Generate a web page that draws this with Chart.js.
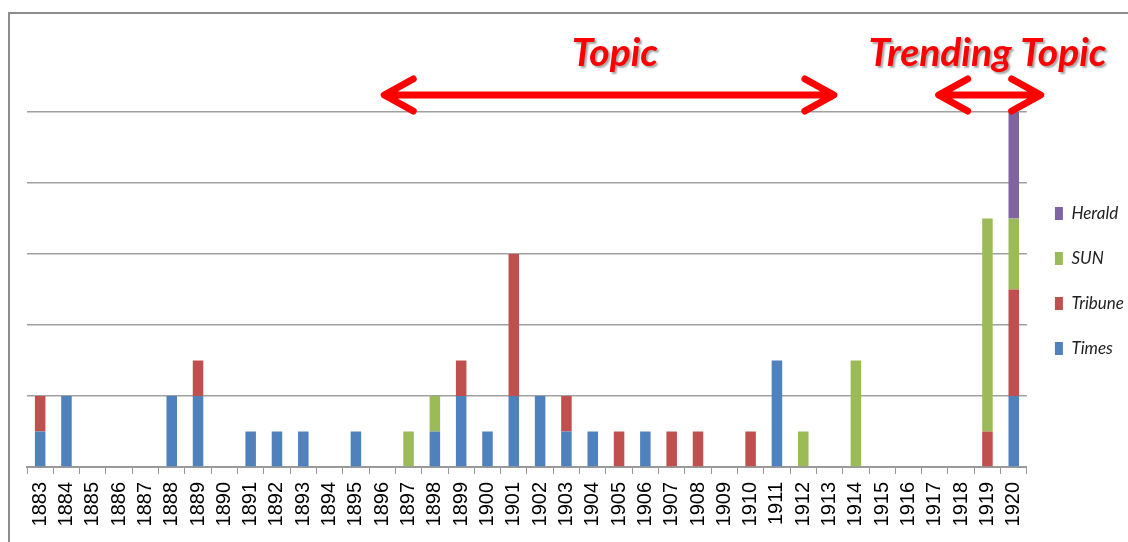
<!DOCTYPE html>
<html>
<head>
<meta charset="utf-8">
<script src="https://cdn.jsdelivr.net/npm/chart.js@4/dist/chart.umd.min.js"></script>
<style>
  html, body { margin: 0; padding: 0; background: #fff; }
  #wrap { width: 1128px; height: 542px; }
</style>
</head>
<body>
<div id="wrap"><canvas id="myChart" width="1128" height="542"></canvas></div>
<script>
const years = ['1883', '1884', '1885', '1886', '1887', '1888', '1889', '1890', '1891', '1892',
  '1893', '1894', '1895', '1896', '1897', '1898', '1899', '1900', '1901', '1902',
  '1903', '1904', '1905', '1906', '1907', '1908', '1909', '1910', '1911', '1912',
  '1913', '1914', '1915', '1916', '1917', '1918', '1919', '1920'];

const times   = [1, 2, 0, 0, 0, 2, 2, 0, 1, 1, 1, 0, 1, 0, 0, 1, 2, 1, 2, 2, 1, 1, 0, 1, 0, 0, 0, 0, 3, 0, 0, 0, 0, 0, 0, 0, 0, 2];
const tribune = [1, 0, 0, 0, 0, 0, 1, 0, 0, 0, 0, 0, 0, 0, 0, 0, 1, 0, 4, 0, 1, 0, 1, 0, 1, 1, 0, 1, 0, 0, 0, 0, 0, 0, 0, 0, 1, 3];
const sun     = [0, 0, 0, 0, 0, 0, 0, 0, 0, 0, 0, 0, 0, 0, 1, 1, 0, 0, 0, 0, 0, 0, 0, 0, 0, 0, 0, 0, 0, 1, 0, 3, 0, 0, 0, 0, 6, 2];
const herald  = [0, 0, 0, 0, 0, 0, 0, 0, 0, 0, 0, 0, 0, 0, 0, 0, 0, 0, 0, 0, 0, 0, 0, 0, 0, 0, 0, 0, 0, 0, 0, 0, 0, 0, 0, 0, 0, 3];

// arrow spans and text centres, in category index units
const topicArrow = [13, 30.24];
const trendArrow = [34.07, 38.1];

const frame = {
  id: 'frame',
  beforeDraw(chart) {
    const c = chart.ctx;
    c.save();
    c.fillStyle = '#fff';
    c.fillRect(0, 0, chart.width, chart.height);
    c.strokeStyle = '#8c8c8c';
    c.lineWidth = 2;
    c.beginPath();
    c.moveTo(9, chart.height);
    c.lineTo(9, 13);
    c.lineTo(chart.width, 13);
    c.stroke();
    c.restore();
  }
};

const arrow = (c, x1, x2, y) => {
  c.beginPath();
  c.moveTo(x1 + 4, y);
  c.lineTo(x2 - 4, y);
  c.moveTo(x1 + 31, y - 16);
  c.lineTo(x1 + 2, y);
  c.lineTo(x1 + 31, y + 16);
  c.moveTo(x2 - 31, y - 16);
  c.lineTo(x2 - 2, y);
  c.lineTo(x2 - 31, y + 16);
  c.stroke();
};

const topics = {
  id: 'topics',
  afterDraw(chart) {
    const c = chart.ctx;
    const x = chart.scales.x;
    const top = chart.chartArea.top;
    c.save();
    c.strokeStyle = '#ff0000';
    c.lineWidth = 7;
    c.lineCap = 'round';
    c.lineJoin = 'round';
    arrow(c, x.getPixelForValue(topicArrow[0]), x.getPixelForValue(topicArrow[1]), top - 17);
    arrow(c, x.getPixelForValue(trendArrow[0]), x.getPixelForValue(trendArrow[1]), top - 17);

    c.font = 'italic bold 39px Lato';
    c.fillStyle = '#ff0000';
    c.textAlign = 'center';
    c.textBaseline = 'alphabetic';
    c.shadowColor = 'rgba(0,0,0,0.35)';
    c.shadowOffsetX = 2;
    c.shadowOffsetY = 2;
    c.shadowBlur = 2;
    c.fillText('Topic', x.getPixelForValue(21.84), top - 46);
    c.fillText('Trending Topic', x.getPixelForValue(36), top - 46);
    c.restore();
  }
};

const ctx = document.getElementById('myChart').getContext('2d');

new Chart(ctx, {
  type: 'bar',
  data: {
    labels: years,
    datasets: [
      { label: 'Times', data: times, backgroundColor: '#4f81bd' },
      { label: 'Tribune', data: tribune, backgroundColor: '#c0504d' },
      { label: 'SUN', data: sun, backgroundColor: '#9bbb59' },
      { label: 'Herald', data: herald, backgroundColor: '#8064a2' }
    ]
  },
  options: {
    responsive: false,
    animation: false,
    datasets: {
      bar: { barPercentage: 0.4, categoryPercentage: 1, borderWidth: 0 }
    },
    layout: { padding: { top: 112, left: 27, right: -6, bottom: 0 } },
    plugins: {
      tooltip: { enabled: false },
      legend: {
        position: 'right',
        align: 'start',
        reverse: true,
        title: { display: true, text: ' ', font: { size: 10 }, padding: { top: 53, bottom: 0 } },
        labels: {
          boxWidth: 8,
          boxHeight: 13,
          padding: 28,
          color: '#222',
          font: { family: 'Lato', size: 17, style: 'italic' }
        }
      }
    },
    scales: {
      x: {
        stacked: true,
        grid: { drawOnChartArea: false, drawTicks: true, tickLength: 7, color: '#999', offset: true },
        border: { display: true, color: '#999', width: 2 },
        ticks: {
          minRotation: 90,
          maxRotation: 90,
          autoSkip: false,
          padding: 8,
          color: '#000',
          font: { family: '"Liberation Sans"', size: 20 }
        },
        afterFit: s => { s.height = 75; }
      },
      y: {
        stacked: true,
        min: 0,
        max: 10,
        grid: { color: '#a0a0a0', lineWidth: 1.5, drawTicks: false },
        border: { display: false },
        ticks: { stepSize: 2, display: false },
        afterFit: s => { s.width = 0; }
      }
    }
  },
  plugins: [frame, topics]
});
</script>
</body>
</html>
